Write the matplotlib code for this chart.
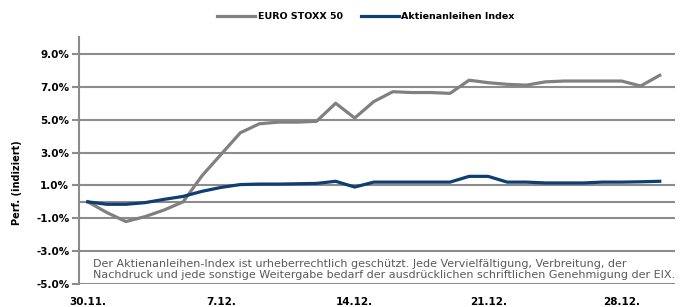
import numpy as np
import pandas as pd
import matplotlib
matplotlib.use('Agg')
import matplotlib.pyplot as plt

# daily values (performance in %)
dates = pd.date_range('2009-11-30', periods=31, freq='D')
euro_stoxx = [0.0, -0.65, -1.2, -0.9, -0.5, 0.0, 1.6, 2.9, 4.2, 4.75, 4.85, 4.85, 4.9,
              6.0, 5.1, 6.1, 6.7, 6.65, 6.65, 6.6, 7.4, 7.25, 7.15, 7.1, 7.3, 7.35,
              7.35, 7.35, 7.35, 7.05, 7.7]
aktienanleihen = [0.0, -0.15, -0.15, -0.05, 0.15, 0.33, 0.64, 0.88, 1.05, 1.08, 1.08,
                  1.1, 1.12, 1.25, 0.9, 1.2, 1.2, 1.2, 1.2, 1.2, 1.55, 1.55, 1.2, 1.2,
                  1.15, 1.15, 1.15, 1.2, 1.2, 1.22, 1.25]
week_ticks = dates[::7]
y_ticks = np.arange(-5, 10, 2)

note = ("Der Aktienanleihen-Index ist urheberrechtlich geschützt. Jede Vervielfältigung, Verbreitung, der\n"
        "Nachdruck und jede sonstige Weitergabe bedarf der ausdrücklichen schriftlichen Genehmigung der EIX.")

plt.rcParams['font.family'] = ['DejaVu Sans']
plt.rcParams['font.weight'] = 'bold'

fig = plt.figure(figsize=(6.83, 3.07), dpi=100)
ax = fig.add_axes([0.1157, 0.0749, 0.8726, 0.803])

grid_col = '#8c8c8c'
ax.plot(dates, euro_stoxx, color='#808080', lw=2.3, label='EURO STOXX 50')
ax.plot(dates, aktienanleihen, color='#0d3f73', lw=2.3, label='Aktienanleihen Index')

ax.set_ylim(-5, 10)
ax.set_yticks(y_ticks)
ax.yaxis.set_major_formatter(lambda v, p: f'{v:.1f}%')
ax.grid(axis='y', color=grid_col, lw=1.5)
ax.axhline(0, color=grid_col, lw=1.5, zorder=0.5)
ax.set_axisbelow(True)

ax.set_xlim(dates[0] - pd.Timedelta(hours=11), dates[0] + pd.Timedelta(hours=30.8 * 24))
ax.set_xticks(week_ticks)
ax.set_xticklabels([f'{d.day}.{d.month}.' for d in week_ticks])

for s in ['top', 'right', 'bottom']:
    ax.spines[s].set_visible(False)
ax.spines['left'].set_color(grid_col)
ax.spines['left'].set_linewidth(1.5)

ax.tick_params(axis='y', length=5, width=1.5, color=grid_col, labelsize=7.5, pad=2)
ax.tick_params(axis='x', length=0, labelsize=7.5, pad=9)

ax.text(0.0235, 0.059, note, transform=ax.transAxes, fontsize=8, color='#595959',
        fontweight='normal', va='center', linespacing=1.12)

fig.text(17 / 683, 1 - 183 / 307, 'Perf. (indiziert)', rotation=90, va='center',
         ha='center', fontsize=7)

fig.legend(loc='center', bbox_to_anchor=(0.536, 0.945), ncol=2, frameon=False,
           fontsize=6.8, handlelength=4.0, columnspacing=1.9, handletextpad=0.3)

fig.savefig('out.png', dpi=100)
